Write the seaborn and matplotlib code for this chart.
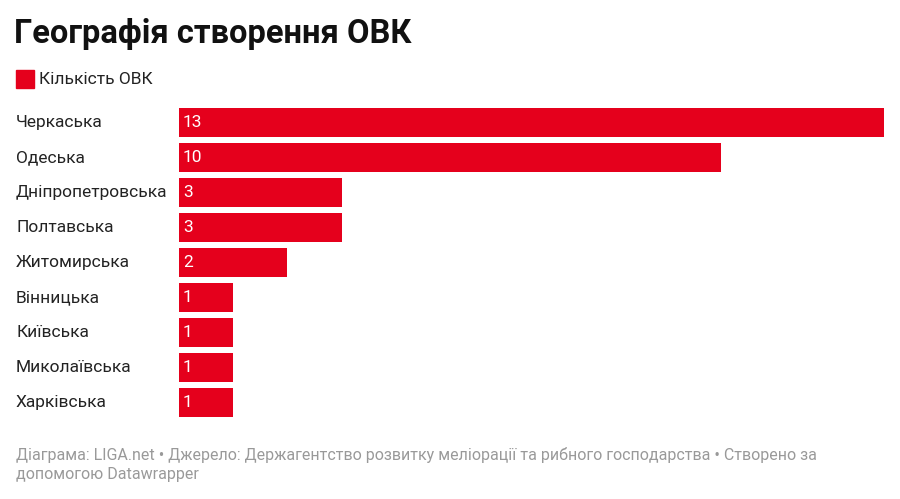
import matplotlib
matplotlib.use("Agg")
import matplotlib.pyplot as plt
import seaborn as sns
import pandas as pd

regions = ["Черкаська", "Одеська", "Дніпропетровська", "Полтавська", "Житомирська",
           "Вінницька", "Київська", "Миколаївська", "Харківська"]
counts = [13, 10, 3, 3, 2, 1, 1, 1, 1]
df = pd.DataFrame({"region": regions, "count": counts})

RED = "#E5001C"
plt.rcParams["font.family"] = "Roboto"
fig = plt.figure(figsize=(9, 4.99), dpi=100)
W, H = 900, 499
ax = fig.add_axes([179 / W, 1 - 419.5 / H, 705 / W, 314 / H])
sns.barplot(data=df, x="count", y="region", color=RED, width=0.83, ax=ax,
            saturation=1, orient="h")
ax.set_xlim(0, 13)
ax.set_ylim(8.5, -0.5)
ax.axis("off")
for i, (r, c) in enumerate(zip(regions, counts)):
    ax.text(0.07, i, str(c), color="white", va="center", ha="left", fontsize=12.5)
    fig.text(16 / W, 1 - (123 + i * 34.9) / H, r, va="center", ha="left",
             fontsize=12.5, color="#222222")

fig.text(14 / W, 1 - 34 / H, "Географія створення ОВК", fontsize=23.5, fontweight="bold",
         va="center", ha="left", color="#111111")
fig.patches.append(plt.Rectangle((16 / W, 1 - 88 / H), 18 / W, 18 / H,
                                 transform=fig.transFigure, color=RED))
fig.text(39 / W, 1 - 79 / H, "Кількість ОВК", fontsize=12.5, va="center", ha="left",
         color="#222222")
fig.text(16 / W, 1 - 455 / H,
         "Діаграма: LIGA.net • Джерело: Держагентство розвитку меліорації та рибного господарства • Створено за",
         fontsize=11.5, color="#999999", va="center", ha="left")
fig.text(16 / W, 1 - 475 / H, "допомогою Datawrapper", fontsize=11.5, color="#999999",
         va="center", ha="left")
fig.savefig("out.png", dpi=100, facecolor="white")
